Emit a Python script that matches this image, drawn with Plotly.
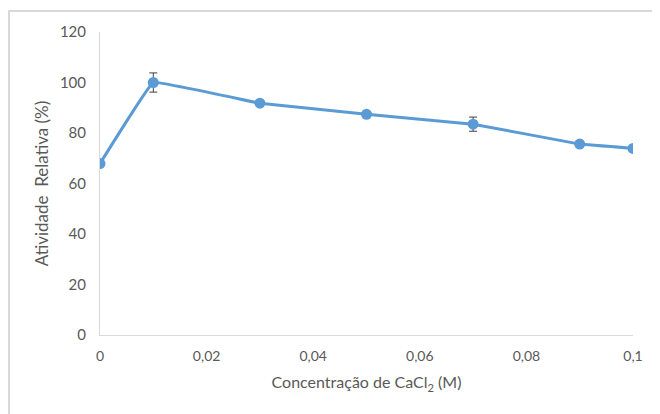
import plotly.graph_objects as go

conc = [0, 0.01, 0.03, 0.05, 0.07, 0.09, 0.1]
atividade = [67.9, 100.0, 91.8, 87.4, 83.5, 75.6, 73.9]
erro = [1.0, 3.8, 1.0, 1.0, 2.8, 1.0, 1.0]
x_ticks = [0, 0.02, 0.04, 0.06, 0.08, 0.1]
x_tick_labels = ["0", "0,02", "0,04", "0,06", "0,08", "0,1"]
y_ticks = [0, 20, 40, 60, 80, 100, 120]

# page body has an 8px margin; compensate
OFF = 8
W, H = 660 - OFF, 414 - OFF
L, R, T, B = 100 - OFF, 27, 32 - OFF, 79
pw, ph = W - L - R, H - T - B

fig = go.Figure()
fig.add_trace(go.Scatter(
    x=conc, y=atividade, mode="lines+markers",
    line=dict(color="#5B9BD5", width=3, shape="spline", smoothing=0.15),
    marker=dict(color="#5B9BD5", size=11),
    error_y=dict(type="data", array=erro, visible=True, color="#404040", thickness=1, width=4),
    showlegend=False,
))

FAM = "Lato, Calibri, sans-serif"
font = dict(family=FAM, color="#595959", size=14)
fig.update_layout(
    width=W, height=H,
    margin=dict(l=L, r=R, t=T, b=B, autoexpand=False),
    paper_bgcolor="white", plot_bgcolor="white",
    font=font,
    separators=",.",
    xaxis=dict(range=[0, 0.1], tickvals=x_ticks, ticktext=x_tick_labels,
               showgrid=False, zeroline=False, showline=True, linecolor="#d9d9d9", linewidth=1,
               ticks="", ticklabelstandoff=8,
               title=dict(text="Concentração de CaCl<sub>2</sub> (M)",
                          font=dict(family=FAM, color="#595959", size=16),
                          standoff=14)),
    yaxis=dict(range=[0, 120], tickvals=y_ticks, tickfont=dict(family=FAM, color="#595959", size=15),
               showgrid=False, zeroline=False, showline=True, linecolor="#d9d9d9", linewidth=1,
               ticks="", ticklabelstandoff=10,
               title=dict(text="Atividade  Relativa (%)",
                          font=dict(family=FAM, color="#595959", size=17),
                          standoff=6)),
)
fig.add_shape(type="rect", xref="paper", yref="paper",
              x0=(9 - OFF - L) / pw, x1=1.2, y0=-0.5, y1=(H - B - (11 - OFF)) / ph,
              line=dict(color="#d9d9d9", width=2), layer="below")

fig.write_html("out.html")
